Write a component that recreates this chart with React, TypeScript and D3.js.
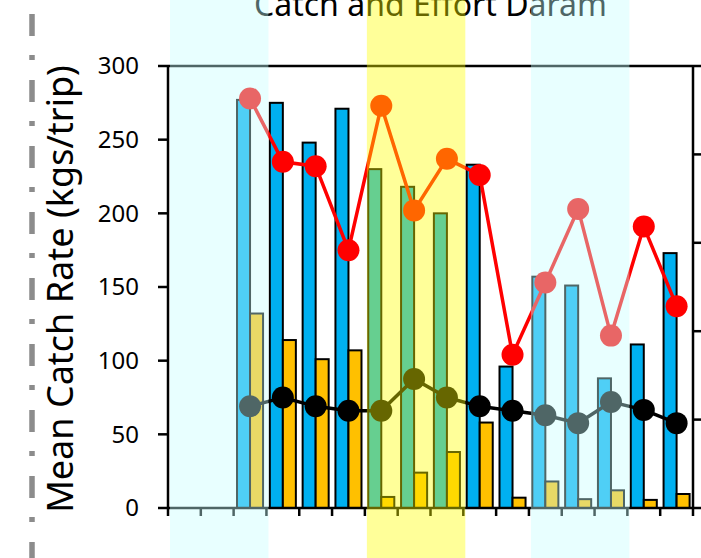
import React from "react";
import * as d3 from "d3";

const categories = ["1", "2", "3", "4", "5", "6", "7", "8", "9", "10", "11", "12", "13", "14", "15", "16"];
const catchRate: (number | null)[] = [null, null, 277, 275, 248, 271, 230, 218, 200, 233, 96, 157, 151, 88, 111, 173];
const effort: (number | null)[] = [null, null, 132, 114, 101, 107, 7.5, 24, 38, 58, 7, 18, 6, 12, 5.5, 9.5];
const redSeries: (number | null)[] = [null, null, 278, 235, 232, 175, 273, 202, 237, 226, 104, 153, 203, 117, 191, 137];
const blackSeries: (number | null)[] = [null, null, 11.5, 12.5, 11.5, 11, 11, 14.6, 12.5, 11.5, 11, 10.5, 9.6, 12, 11.1, 9.6];
const leftTicks = [0, 50, 100, 150, 200, 250, 300];
const rightTicks = [0, 10, 20, 30, 40, 50];
const shadedRanges: [number, number][] = [[0, 2], [6, 8], [11, 13]];
const titleText = "Catch and Effort Daram";
const yLabel = "Mean Catch Rate (kgs/trip)";

const W = 701, H = 558;
const L = 168, R = 693, T = 66, B = 508;
const FONT = "'Noto Sans', 'Open Sans', sans-serif";
const bandFill = ["rgba(197,255,255,0.4)", "rgba(255,255,0,0.4)", "rgba(197,255,255,0.4)"];

export default function App() {
  const x0 = d3.scaleBand<string>().domain(categories).range([L, R]).padding(0);
  const x1 = d3.scaleBand<string>().domain(["c", "e"]).range([0, x0.bandwidth()]).paddingInner(0).paddingOuter(0.26);
  const y = d3.scaleLinear().domain([0, 300]).range([B, T]);
  const y2 = d3.scaleLinear().domain([0, 50]).range([B, T]);
  const cx = (i: number) => (x0(categories[i]) as number) + x0.bandwidth() / 2;

  const redPts = redSeries.map((v, i) => (v == null ? null : [cx(i), y(v)] as [number, number])).filter(Boolean) as [number, number][];
  const blackPts = blackSeries.map((v, i) => (v == null ? null : [cx(i), y2(v)] as [number, number])).filter(Boolean) as [number, number][];
  const line = d3.line<[number, number]>().x(d => d[0]).y(d => d[1]);

  const boundaries = categories.map(c => x0(c) as number).concat([R]);

  return (
    <svg width={W} height={H} style={{ position: "absolute", left: 0, top: 0, background: "#fff" }} fontFamily={FONT}>
      <rect x={0} y={0} width={W} height={H} fill="#fff" />
      <line x1={32} x2={32} y1={0} y2={H} stroke="#8c8c8c" strokeWidth={5.5} strokeDasharray="22,19,5,20" strokeDashoffset={52} />
      <text x={(L + R) / 2} y={16} textAnchor="middle" fontSize={32} fill="#000">{titleText}</text>
      {catchRate.map((v, i) => v == null ? null : (
        <rect key={"c" + i} x={(x0(categories[i]) as number) + (x1("c") as number)} y={y(v)} width={x1.bandwidth()} height={B - y(v)} fill="#00B0F0" stroke="#000" strokeWidth={2} />
      ))}
      {effort.map((v, i) => v == null ? null : (
        <rect key={"e" + i} x={(x0(categories[i]) as number) + (x1("e") as number)} y={y(v)} width={x1.bandwidth()} height={B - y(v)} fill="#FFC000" stroke="#000" strokeWidth={2} />
      ))}
      <path d={line(redPts) || ""} fill="none" stroke="#FF0000" strokeWidth={3.5} />
      {redPts.map((p, i) => <circle key={"r" + i} cx={p[0]} cy={p[1]} r={11} fill="#FF0000" />)}
      <path d={line(blackPts) || ""} fill="none" stroke="#000" strokeWidth={3.5} />
      {blackPts.map((p, i) => <circle key={"b" + i} cx={p[0]} cy={p[1]} r={11} fill="#000" />)}
      <line x1={L} x2={R} y1={T} y2={T} stroke="#000" strokeWidth={2.5} />
      <line x1={L} x2={L} y1={T - 1} y2={B + 1} stroke="#000" strokeWidth={2.5} />
      <line x1={R} x2={R} y1={T - 1} y2={B + 1} stroke="#000" strokeWidth={2.5} />
      <line x1={L} x2={R} y1={B} y2={B} stroke="#000" strokeWidth={2.5} />
      {leftTicks.map(t => (
        <g key={"lt" + t}>
          <line x1={L - 10} x2={L} y1={y(t)} y2={y(t)} stroke="#000" strokeWidth={2.5} />
          <text x={139} y={y(t)} dy="0.35em" textAnchor="end" fontSize={24} fill="#000">{t}</text>
        </g>
      ))}
      {rightTicks.map(t => (
        <line key={"rt" + t} x1={R} x2={R + 8} y1={y2(t)} y2={y2(t)} stroke="#000" strokeWidth={2.5} />
      ))}
      {boundaries.map((bx, i) => (
        <line key={"xt" + i} x1={bx} x2={bx} y1={B} y2={B + 8} stroke="#000" strokeWidth={2.5} />
      ))}
      <text transform={`translate(73,${(T + B) / 2 + 2}) rotate(-90)`} textAnchor="middle" fontSize={36} fill="#000">{yLabel}</text>
      {shadedRanges.map((r, i) => {
        const xs = (x0(categories[r[0]]) as number) + 2;
        const xe = (x0(categories[r[1]]) as number) + x0.bandwidth() + 2;
        return <rect key={"s" + i} x={xs} y={0} width={xe - xs} height={H} fill={bandFill[i]} />;
      })}
    </svg>
  );
}
